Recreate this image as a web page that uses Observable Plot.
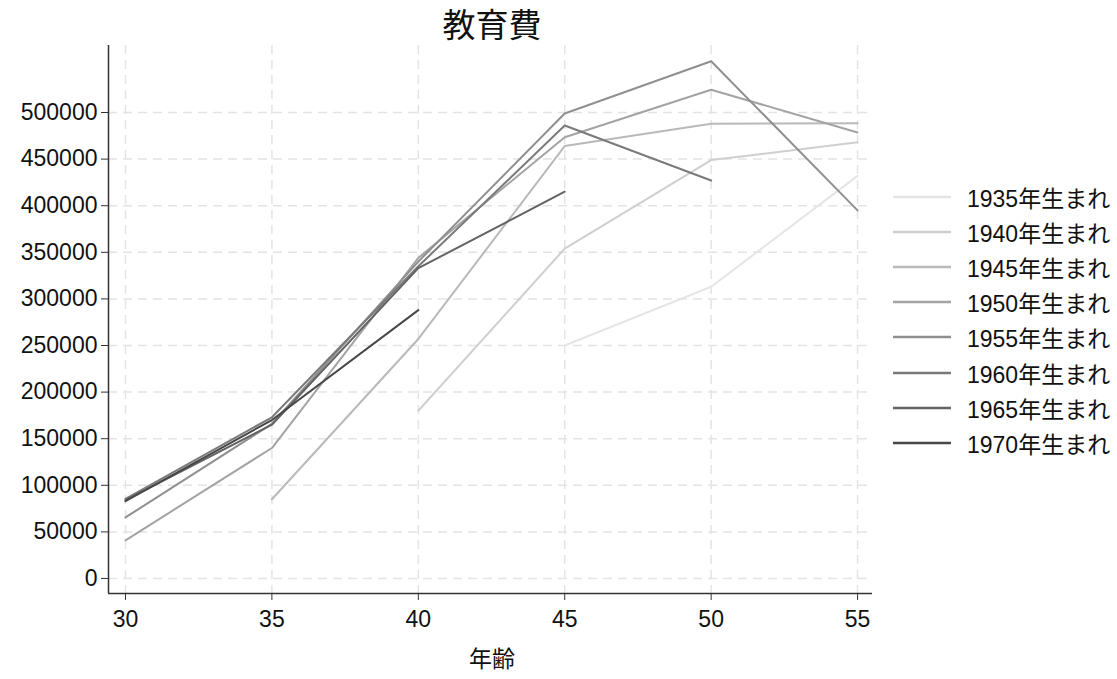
<!DOCTYPE html>
<html>
<head>
<meta charset="utf-8">
<script src="https://cdn.jsdelivr.net/npm/d3@7"></script>
<script src="https://cdn.jsdelivr.net/npm/@observablehq/plot@0.6"></script>
<style>
  html, body { margin: 0; padding: 0; background: #fff; }
  body { font-family: "Liberation Sans", Arial, "Noto Sans CJK JP", sans-serif; }
  #wrap { position: relative; width: 1117px; height: 679px; }
  #title { position: absolute; left: 0; top: 6px; width: 984px; text-align: center; font-size: 33px; line-height: 40px; color: #111; font-family: "Liberation Sans", "Noto Sans CJK JP", sans-serif; }
  #xlabel { position: absolute; left: 0; top: 645px; width: 984px; text-align: center; font-size: 23px; line-height: 28px; color: #111; font-family: "Liberation Sans", "Noto Sans CJK JP", sans-serif; }
  #legend { position: absolute; left: 893px; top: 184px; }
  .row { position: absolute; left: 0; height: 30px; width: 230px; white-space: nowrap; }
  .row svg { position: absolute; left: 0; top: 0; }
  .row span { position: absolute; left: 74px; top: 0; font-size: 23px; line-height: 30px; color: #111; font-family: "Liberation Sans", "Noto Sans CJK JP", sans-serif; }
</style>
</head>
<body>
<div id="wrap">
  <div id="chart"></div>
  <div id="title">教育費</div>
  <div id="xlabel">年齢</div>
  <div id="legend"></div>
</div>
<script>
// ---- data ----
const ages = [30, 35, 40, 45, 50, 55];
const seriesNames = ["1935年生まれ", "1940年生まれ", "1945年生まれ", "1950年生まれ", "1955年生まれ", "1960年生まれ", "1965年生まれ", "1970年生まれ"];
const b1935 = [null, null, null, 250000, 313000, 432000];
const b1940 = [null, null, 180000, 354000, 449000, 468000];
const b1945 = [null, 85000, 257000, 464000, 488000, 488500];
const b1950 = [41000, 140000, 344000, 473500, 524500, 478500];
const b1955 = [65500, 166000, 340000, 499000, 555000, 395000];
const b1960 = [85500, 173000, 335000, 486000, 427000, null];
const b1965 = [84000, 165000, 333000, 415000, null, null];
const b1970 = [83000, 170000, 288000, null, null, null];
const seriesValues = [b1935, b1940, b1945, b1950, b1955, b1960, b1965, b1970];
const seriesColors = ["#e5e5e5", "#cfcfcf", "#b9b9b9", "#a3a3a3", "#8f8f8f", "#7a7a7a", "#636363", "#474747"];
const xTicks = [30, 35, 40, 45, 50, 55];
const yTicks = [0, 50000, 100000, 150000, 200000, 250000, 300000, 350000, 400000, 450000, 500000];

// ---- tidy table ----
const rows = seriesNames.flatMap((name, i) =>
  ages.map((a, j) => ({series: name, age: a, value: seriesValues[i][j]}))
      .filter(d => d.value != null)
);

const xDomain = [29.42, 55.51];
const yDomain = [-16100, 571900];

const chart = Plot.plot({
  width: 1117,
  height: 679,
  marginTop: 45,
  marginBottom: 86,
  marginLeft: 108,
  marginRight: 245,
  style: {fontFamily: "'Liberation Sans', Arial, sans-serif", fontSize: "23px", color: "#111", background: "#fff"},
  x: {domain: xDomain},
  y: {domain: yDomain},
  color: {domain: seriesNames, range: seriesColors},
  marks: [
    Plot.gridY(yTicks, {stroke: "#e4e4e4", strokeOpacity: 1, strokeWidth: 1.5, strokeDasharray: "9,6"}),
    Plot.gridX(xTicks, {stroke: "#e4e4e4", strokeOpacity: 1, strokeWidth: 1.5, strokeDasharray: "9,6"}),
    Plot.axisY(yTicks, {tickSize: 7, tickPadding: 4, tickFormat: d3.format("d"), label: null, stroke: "#333", fontSize: 23, fill: "#111"}),
    Plot.axisX(xTicks, {tickSize: 7, tickPadding: 10, tickFormat: d3.format("d"), label: null, stroke: "#333", fontSize: 23, fill: "#111"}),
    Plot.ruleX([xDomain[0]], {stroke: "#333", strokeWidth: 1.5}),
    Plot.ruleY([yDomain[0]], {stroke: "#333", strokeWidth: 1.5}),
    Plot.line(rows, {x: "age", y: "value", z: "series", stroke: "series", strokeWidth: 2})
  ]
});
document.getElementById("chart").appendChild(chart);

// ---- legend ----
const legend = document.getElementById("legend");
seriesNames.forEach((name, i) => {
  const row = document.createElement("div");
  row.className = "row";
  row.style.top = (i * 35.1) + "px";
  row.innerHTML = `<svg width="60" height="30"><line x1="0" x2="58" y1="13" y2="13" stroke="${seriesColors[i]}" stroke-width="2.5"/></svg><span>${name}</span>`;
  legend.appendChild(row);
});
</script>
</body>
</html>
